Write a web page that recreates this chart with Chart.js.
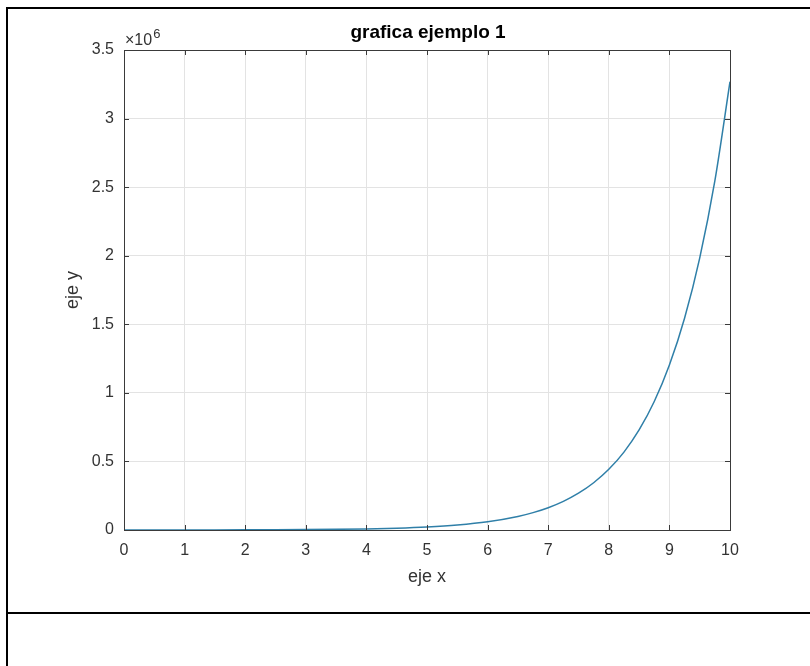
<!DOCTYPE html>
<html><head><meta charset="utf-8">
<script src="https://cdn.jsdelivr.net/npm/chart.js@4/dist/chart.umd.min.js"></script>
<style>
html,body{margin:0;padding:0;background:#fff;width:810px;height:666px;overflow:hidden;}
#wrap{position:relative;width:810px;height:666px;}
canvas{position:absolute;left:0;top:0;}
.ln{position:absolute;background:#000;}
</style></head><body>
<div id="wrap">
<canvas id="c" width="810" height="666"></canvas>
<div class="ln" style="left:6px;top:7px;width:804px;height:2px"></div>
<div class="ln" style="left:6px;top:7px;width:2px;height:659px"></div>
<div class="ln" style="left:6px;top:612px;width:804px;height:2px"></div>
</div>
<script>
// values
const xValues = [0, 0.5, 1, 1.5, 2, 2.5, 3, 3.5, 4, 4.5, 5, 5.5, 6, 6.5, 6.75, 7, 7.25, 7.5, 7.75, 8, 8.25, 8.5, 8.75, 9, 9.25, 9.5, 9.75, 10];
const yValues = [148, 245, 403, 665, 1097, 1808, 2981, 4915, 8103, 13360, 22026, 36316, 59874, 98716, 126753, 162755, 208981, 268337, 344551, 442413, 568070, 729416, 936589, 1202604, 1544174, 1982759, 2545913, 3269017];
const xTicks = [0, 1, 2, 3, 4, 5, 6, 7, 8, 9, 10];
const yTicks = [0, 500000, 1000000, 1500000, 2000000, 2500000, 3000000, 3500000];
const yTickLabels = ['0', '0.5', '1', '1.5', '2', '2.5', '3', '3.5'];
const chartTitle = 'grafica ejemplo 1';
const xLabel = 'eje x';
const yLabel = 'eje y';
const exponentBase = '\u00d710';
const exponentPower = '6';

const FONT = '"Liberation Sans", Arial, Helvetica, sans-serif';
const TEXT = '#333333';
const AXIS = '#3a3a3a';

const points = xValues.map((x, i) => ({x: x, y: yValues[i]}));

const boxPlugin = {
  id: 'matlabBox',
  afterDraw(chart) {
    const {ctx, chartArea: a, scales: {x, y}} = chart;
    ctx.save();
    ctx.strokeStyle = AXIS;
    ctx.lineWidth = 1;
    ctx.beginPath();
    x.ticks.forEach(t => {
      const px = Math.round(x.getPixelForValue(t.value)) + 0.5;
      ctx.moveTo(px, a.bottom); ctx.lineTo(px, a.bottom - 5);
      ctx.moveTo(px, a.top); ctx.lineTo(px, a.top + 5);
    });
    y.ticks.forEach(t => {
      const py = Math.round(y.getPixelForValue(t.value)) + 0.5;
      ctx.moveTo(a.left, py); ctx.lineTo(a.left + 5, py);
      ctx.moveTo(a.right, py); ctx.lineTo(a.right - 5, py);
    });
    ctx.stroke();
    ctx.strokeRect(Math.round(a.left) + 0.5, Math.round(a.top) + 0.5, Math.round(a.right - a.left), Math.round(a.bottom - a.top));
    // title
    ctx.fillStyle = '#000';
    ctx.font = 'bold 19px ' + FONT;
    ctx.textAlign = 'center';
    ctx.textBaseline = 'middle';
    ctx.fillText(chartTitle, (a.left + a.right) / 2 + 1, a.top - 17);
    // exponent
    ctx.fillStyle = TEXT;
    ctx.font = '16px ' + FONT;
    ctx.textAlign = 'left';
    ctx.textBaseline = 'alphabetic';
    ctx.fillText(exponentBase, a.left + 1, a.top - 5);
    const w = ctx.measureText(exponentBase).width;
    ctx.font = '13px ' + FONT;
    ctx.fillText(exponentPower, a.left + 2 + w, a.top - 12);
    ctx.restore();
  }
};

new Chart(document.getElementById('c'), {
  type: 'scatter',
  data: {
    datasets: [{
      data: points,
      showLine: true,
      borderColor: '#2f7fa8',
      borderWidth: 1.5,
      pointRadius: 0,
      fill: false,
      cubicInterpolationMode: 'monotone'
    }]
  },
  options: {
    responsive: false,
    animation: false,
    layout: {padding: {left: 0, top: 50, right: 80, bottom: 0}},
    plugins: {legend: {display: false}, tooltip: {enabled: false}, title: {display: false}},
    scales: {
      x: {
        type: 'linear', min: 0, max: 10,
        afterFit(s) { s.height = 136; },
        afterBuildTicks(s) { s.ticks = xTicks.map(v => ({value: v})); },
        grid: {color: '#e3e3e3', drawTicks: false},
        border: {display: false},
        ticks: {padding: 11, color: TEXT, font: {family: FONT, size: 16}, maxRotation: 0},
        title: {display: true, text: xLabel, color: TEXT, font: {family: FONT, size: 18}, padding: {top: 0, bottom: 78}}
      },
      y: {
        type: 'linear', min: 0, max: 3500000,
        afterFit(s) { s.width = 124; },
        afterBuildTicks(s) { s.ticks = yTicks.map(v => ({value: v})); },
        grid: {color: '#e3e3e3', drawTicks: false},
        border: {display: false},
        ticks: {padding: 10, color: TEXT, font: {family: FONT, size: 16},
          callback: (v) => { const i = yTicks.indexOf(v); return i >= 0 ? yTickLabels[i] : ''; }},
        title: {display: true, text: yLabel, color: TEXT, font: {family: FONT, size: 18}, padding: {top: 62, bottom: 0}}
      }
    }
  },
  plugins: [boxPlugin]
});
</script>
</body></html>
